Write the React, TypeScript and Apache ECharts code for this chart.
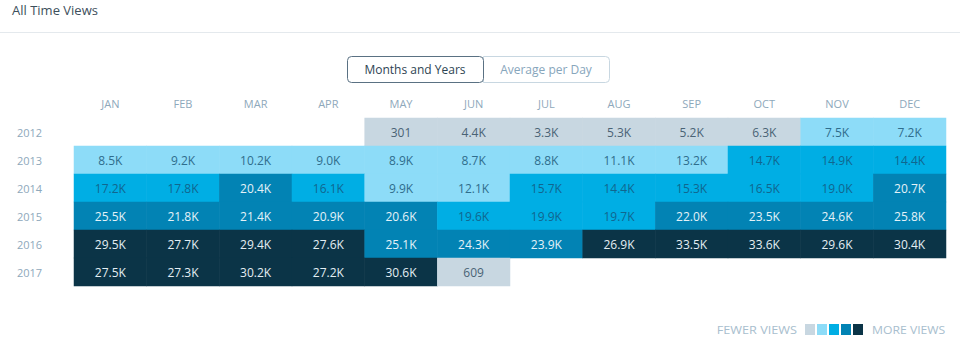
import React, { useEffect, useRef } from "react";
import * as echarts from "echarts";

const months = ["JAN", "FEB", "MAR", "APR", "MAY", "JUN", "JUL", "AUG", "SEP", "OCT", "NOV", "DEC"];
const years = ["2012", "2013", "2014", "2015", "2016", "2017"];

const views2012 = [null, null, null, null, 301, 4400, 3300, 5300, 5200, 6300, 7500, 7200];
const views2013 = [8500, 9200, 10200, 9000, 8900, 8700, 8800, 11100, 13200, 14700, 14900, 14400];
const views2014 = [17200, 17800, 20400, 16100, 9900, 12100, 15700, 14400, 15300, 16500, 19000, 20700];
const views2015 = [25500, 21800, 21400, 20900, 20600, 19600, 19900, 19700, 22000, 23500, 24600, 25800];
const views2016 = [29500, 27700, 29400, 27600, 25100, 24300, 23900, 26900, 33500, 33600, 29600, 30400];
const views2017 = [27500, 27300, 30200, 27200, 30600, 609, null, null, null, null, null, null];

const levelThresholds = [7000, 14000, 20000, 26000];
const levelColors = ["#c8d7e1", "#8ddcf8", "#00aee4", "#0283b4", "#0b3447"];
const levelTextColors = ["#4a6375", "#2f6d8c", "#10668f", "#e4f2f8", "#e4eef3"];

const fmt = (v: number) => (v < 1000 ? String(v) : (v / 1000).toFixed(1) + "K");
const levelOf = (v: number) => {
  let l = 0;
  for (const t of levelThresholds) if (v >= t) l++;
  return l;
};

export default function App() {
  const ref = useRef<HTMLDivElement>(null);
  useEffect(() => {
    document.body.style.margin = "0";
    const chart = echarts.init(ref.current!, null, { renderer: "svg" });
    const rows = [views2012, views2013, views2014, views2015, views2016, views2017];
    const data: any[] = [];
    rows.forEach((row, yi) => {
      row.forEach((v, xi) => {
        if (v == null) return;
        data.push({
          value: [xi, yi, v],
          label: { color: levelTextColors[levelOf(v)] },
        });
      });
    });
    const font = "'Open Sans', 'Noto Sans', sans-serif";
    const legendX = 805;
    chart.setOption({
      animation: false,
      textStyle: { fontFamily: font },
      grid: { left: 74, right: 14, top: 118, height: 168 },
      xAxis: {
        type: "category",
        data: months,
        position: "top",
        axisLine: { show: false },
        axisTick: { show: false },
        splitLine: { show: false },
        axisLabel: { color: "#8ea8bb", fontSize: 11, margin: 9, fontFamily: font },
      },
      yAxis: {
        type: "category",
        data: years,
        inverse: true,
        axisLine: { show: false },
        axisTick: { show: false },
        splitLine: { show: false },
        axisLabel: { color: "#8ea8bb", fontSize: 11, margin: 57, align: "left", fontFamily: font },
      },
      visualMap: {
        show: false,
        type: "piecewise",
        dimension: 2,
        pieces: [
          { lt: levelThresholds[0], color: levelColors[0] },
          { gte: levelThresholds[0], lt: levelThresholds[1], color: levelColors[1] },
          { gte: levelThresholds[1], lt: levelThresholds[2], color: levelColors[2] },
          { gte: levelThresholds[2], lt: levelThresholds[3], color: levelColors[3] },
          { gte: levelThresholds[3], color: levelColors[4] },
        ],
      },
      series: [
        {
          type: "heatmap",
          data,
          itemStyle: { borderWidth: 0 },
          label: {
            show: true,
            fontSize: 12,
            fontFamily: font,
            formatter: (p: any) => fmt(p.value[2]),
          },
          emphasis: { disabled: true },
        },
      ],
      graphic: [
        {
          type: "text",
          left: 12,
          top: 3,
          style: { text: "All Time Views", fill: "#3d4f5c", fontSize: 13, fontFamily: font },
        },
        {
          type: "line",
          shape: { x1: 0, y1: 32.5, x2: 960, y2: 32.5 },
          style: { stroke: "#e4e9ed", lineWidth: 1 },
        },
        {
          type: "rect",
          shape: { x: 483.5, y: 56.5, width: 126, height: 26, r: [0, 4, 4, 0] },
          style: { fill: "#fff", stroke: "#c8d7e1", lineWidth: 1 },
        },
        {
          type: "rect",
          shape: { x: 347.5, y: 56.5, width: 136, height: 26, r: 4 },
          style: { fill: "#fff", stroke: "#5a7183", lineWidth: 1 },
        },
        {
          type: "text",
          x: 415,
          y: 69.5,
          style: { text: "Months and Years", fill: "#2e4453", fontSize: 12, fontFamily: font, align: "center", verticalAlign: "middle" },
        },
        {
          type: "text",
          x: 546,
          y: 69.5,
          style: { text: "Average per Day", fill: "#87a6bc", fontSize: 12, fontFamily: font, align: "center", verticalAlign: "middle" },
        },
        {
          type: "text",
          x: 797,
          y: 330,
          scaleX: 1.27,
          style: { text: "FEWER VIEWS", fill: "#a8bece", fontSize: 10, fontFamily: font, align: "right", verticalAlign: "middle" },
        },
        ...levelColors.map((c, i) => ({
          type: "rect",
          shape: { x: legendX + i * 12, y: 324, width: 10, height: 11 },
          style: { fill: c },
        })),
        {
          type: "text",
          x: 872,
          y: 330,
          scaleX: 1.22,
          style: { text: "MORE VIEWS", fill: "#a8bece", fontSize: 10, fontFamily: font, align: "left", verticalAlign: "middle" },
        },
      ],
    });
    return () => chart.dispose();
  }, []);
  return <div ref={ref} style={{ width: 960, height: 352 }} />;
}
